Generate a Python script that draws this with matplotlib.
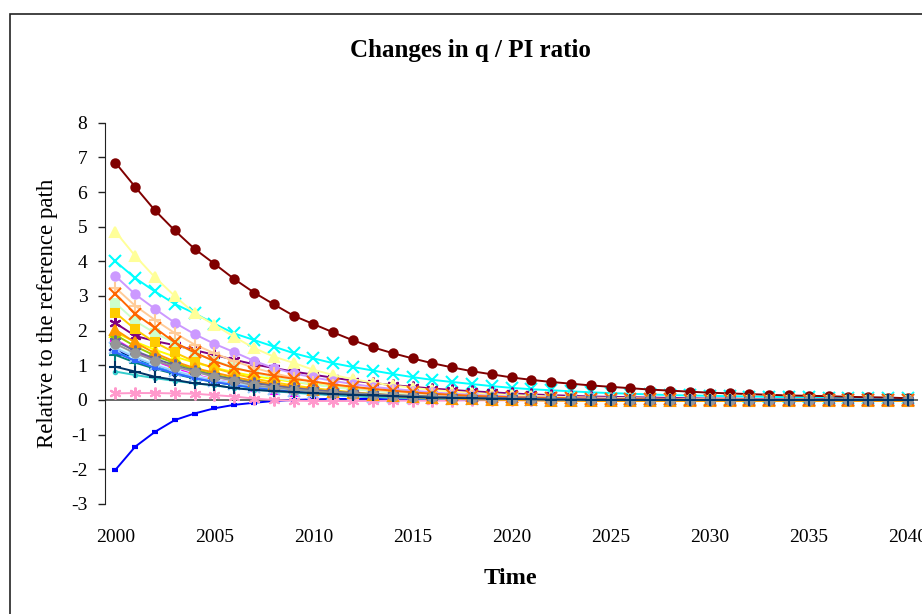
import matplotlib
matplotlib.use("Agg")
import matplotlib.pyplot as plt
from matplotlib.patches import Rectangle
import numpy as np

plt.rcParams['font.family'] = ['Liberation Serif', 'DejaVu Serif']
plt.rcParams['axes.unicode_minus'] = False

years = np.arange(2000, 2041)

# one list per series, 2000..2040
s01 = [1.45, 1.20, 0.99, 0.82, 0.68, 0.56, 0.46, 0.38, 0.31, 0.25,
       0.20, 0.16, 0.13, 0.10, 0.08, 0.06, 0.05, 0.04, 0.03, 0.02,
       0.02, 0.01, 0.01, 0.01, 0.00, 0.00, 0.00, 0.00, 0.00, 0.00,
       0.00, 0.00, 0.00, 0.00, 0.00, 0.00, 0.00, 0.00, 0.00, 0.00, 0.00]
s02 = [1.75, 1.41, 1.13, 0.91, 0.73, 0.59, 0.48, 0.38, 0.30, 0.24,
       0.19, 0.15, 0.12, 0.09, 0.07, 0.05, 0.04, 0.03, 0.02, 0.01,
       0.01, 0.01, 0.00, 0.00, 0.00, 0.00, 0.00, 0.00, 0.00, 0.00,
       0.00, 0.00, 0.00, 0.00, 0.00, 0.00, 0.00, 0.00, 0.00, 0.00, 0.00]
s03 = [1.95, 1.68, 1.45, 1.25, 1.08, 0.93, 0.80, 0.69, 0.60, 0.52,
       0.45, 0.39, 0.33, 0.29, 0.25, 0.21, 0.18, 0.16, 0.14, 0.12,
       0.10, 0.09, 0.08, 0.07, 0.06, 0.05, 0.04, 0.04, 0.03, 0.03,
       0.02, 0.02, 0.02, 0.01, 0.01, 0.01, 0.01, 0.01, 0.00, 0.00, 0.00]
s04 = [4.00, 3.52, 3.13, 2.77, 2.50, 2.20, 1.92, 1.73, 1.54, 1.35,
       1.20, 1.06, 0.95, 0.85, 0.75, 0.66, 0.58, 0.52, 0.46, 0.40,
       0.35, 0.31, 0.28, 0.25, 0.22, 0.20, 0.18, 0.16, 0.14, 0.13,
       0.12, 0.11, 0.10, 0.09, 0.08, 0.08, 0.07, 0.07, 0.06, 0.06, 0.05]
s05 = [2.22, 1.85, 1.70, 1.58, 1.44, 1.30, 1.16, 1.03, 0.92, 0.82,
       0.73, 0.64, 0.56, 0.49, 0.43, 0.38, 0.33, 0.29, 0.25, 0.22,
       0.19, 0.16, 0.14, 0.12, 0.10, 0.09, 0.08, 0.07, 0.06, 0.05,
       0.04, 0.04, 0.03, 0.03, 0.02, 0.02, 0.02, 0.01, 0.01, 0.01, 0.01]
s06 = [6.85, 6.15, 5.47, 4.89, 4.36, 3.93, 3.49, 3.10, 2.76, 2.43,
       2.19, 1.95, 1.72, 1.52, 1.35, 1.20, 1.06, 0.94, 0.83, 0.74,
       0.65, 0.58, 0.52, 0.47, 0.42, 0.38, 0.34, 0.30, 0.27, 0.24,
       0.21, 0.19, 0.17, 0.15, 0.13, 0.12, 0.11, 0.09, 0.08, 0.07, 0.05]
s07 = [1.30, 1.08, 0.90, 0.75, 0.62, 0.52, 0.43, 0.36, 0.30, 0.25,
       0.20, 0.16, 0.13, 0.10, 0.08, 0.06, 0.05, 0.04, 0.03, 0.02,
       0.02, 0.01, 0.01, 0.01, 0.00, 0.00, 0.00, 0.00, 0.00, 0.00,
       0.00, 0.00, 0.00, 0.00, 0.00, 0.00, 0.00, 0.00, 0.00, 0.00, 0.00]
s08 = [-2.02, -1.35, -0.92, -0.58, -0.39, -0.24, -0.14, -0.08, -0.03, 0.00,
       0.02, 0.03, 0.03, 0.03, 0.02, 0.02, 0.02, 0.01, 0.01, 0.01,
       0.01, 0.01, 0.00, 0.00, 0.00, 0.00, 0.00, 0.00, 0.00, 0.00,
       0.00, 0.00, 0.00, 0.00, 0.00, 0.00, 0.00, 0.00, 0.00, 0.00, 0.00]
s09 = [1.40, 1.15, 0.95, 0.78, 0.64, 0.53, 0.44, 0.36, 0.29, 0.24,
       0.19, 0.15, 0.12, 0.09, 0.07, 0.05, 0.04, 0.03, 0.02, 0.02,
       0.01, 0.01, 0.01, 0.00, 0.00, 0.00, 0.00, 0.00, 0.00, 0.00,
       0.00, 0.00, 0.00, 0.00, 0.00, 0.00, 0.00, 0.00, 0.00, 0.00, 0.00]
s10 = [1.55, 1.27, 1.04, 0.86, 0.71, 0.58, 0.48, 0.39, 0.32, 0.26,
       0.21, 0.17, 0.14, 0.11, 0.09, 0.07, 0.05, 0.04, 0.03, 0.02,
       0.02, 0.01, 0.01, 0.00, 0.00, 0.00, 0.00, 0.00, 0.00, 0.00,
       0.00, 0.00, 0.00, 0.00, 0.00, 0.00, 0.00, 0.00, 0.00, 0.00, 0.00]
s11 = [2.80, 2.28, 1.93, 1.65, 1.36, 1.13, 0.94, 0.78, 0.65, 0.54,
       0.45, 0.37, 0.31, 0.26, 0.21, 0.17, 0.14, 0.11, 0.09, 0.07,
       0.06, 0.05, 0.04, 0.03, 0.02, 0.02, 0.01, 0.01, 0.01, 0.00,
       0.00, 0.00, 0.00, 0.00, 0.00, 0.00, 0.00, 0.00, 0.00, 0.00, 0.00]
s12 = [4.86, 4.16, 3.54, 3.00, 2.50, 2.17, 1.82, 1.50, 1.25, 1.07,
       0.87, 0.72, 0.60, 0.50, 0.42, 0.35, 0.29, 0.24, 0.20, 0.17,
       0.14, 0.12, 0.10, 0.08, 0.07, 0.06, 0.05, 0.04, 0.03, 0.03,
       0.02, 0.02, 0.01, 0.01, 0.01, 0.01, 0.00, 0.00, 0.00, 0.00, 0.00]
s13 = [1.50, 1.23, 1.01, 0.83, 0.68, 0.56, 0.46, 0.38, 0.31, 0.25,
       0.20, 0.16, 0.13, 0.10, 0.08, 0.06, 0.05, 0.04, 0.03, 0.02,
       0.02, 0.01, 0.01, 0.00, 0.00, 0.00, 0.00, 0.00, 0.00, 0.00,
       0.00, 0.00, 0.00, 0.00, 0.00, 0.00, 0.00, 0.00, 0.00, 0.00, 0.00]
s14 = [0.19, 0.20, 0.20, 0.19, 0.18, 0.14, 0.10, 0.04, 0.00, -0.02,
       -0.03, -0.03, -0.03, -0.03, -0.02, -0.02, -0.02, -0.02, -0.01, -0.01,
       -0.01, -0.01, -0.01, -0.01, 0.00, 0.00, 0.00, 0.00, 0.00, 0.00,
       0.00, 0.00, 0.00, 0.00, 0.00, 0.00, 0.00, 0.00, 0.00, 0.00, 0.00]
s15 = [3.58, 3.05, 2.63, 2.23, 1.90, 1.62, 1.38, 1.13, 0.92, 0.77,
       0.65, 0.55, 0.46, 0.38, 0.32, 0.27, 0.22, 0.18, 0.15, 0.12,
       0.10, 0.08, 0.07, 0.06, 0.05, 0.04, 0.03, 0.03, 0.02, 0.02,
       0.01, 0.01, 0.01, 0.01, 0.00, 0.00, 0.00, 0.00, 0.00, 0.00, 0.00]
s16 = [3.24, 2.72, 2.31, 1.93, 1.60, 1.35, 1.12, 0.93, 0.77, 0.64,
       0.53, 0.44, 0.36, 0.30, 0.25, 0.20, 0.17, 0.14, 0.11, 0.09,
       0.07, 0.06, 0.05, 0.04, 0.03, 0.02, 0.02, 0.01, 0.01, 0.01,
       0.00, 0.00, 0.00, 0.00, 0.00, 0.00, 0.00, 0.00, 0.00, 0.00, 0.00]
s17 = [1.38, 1.13, 0.93, 0.77, 0.63, 0.52, 0.43, 0.35, 0.29, 0.23,
       0.19, 0.15, 0.12, 0.09, 0.07, 0.05, 0.04, 0.03, 0.02, 0.02,
       0.01, 0.01, 0.00, 0.00, 0.00, 0.00, 0.00, 0.00, 0.00, 0.00,
       0.00, 0.00, 0.00, 0.00, 0.00, 0.00, 0.00, 0.00, 0.00, 0.00, 0.00]
s18 = [0.82, 0.72, 0.63, 0.55, 0.48, 0.42, 0.35, 0.30, 0.25, 0.21,
       0.17, 0.14, 0.11, 0.09, 0.07, 0.05, 0.04, 0.03, 0.02, 0.02,
       0.01, 0.01, 0.00, 0.00, 0.00, 0.00, 0.00, 0.00, 0.00, 0.00,
       0.00, 0.00, 0.00, 0.00, 0.00, 0.00, 0.00, 0.00, 0.00, 0.00, 0.00]
s19 = [1.88, 1.55, 1.28, 1.06, 0.88, 0.73, 0.61, 0.51, 0.42, 0.35,
       0.29, 0.24, 0.20, 0.16, 0.13, 0.11, 0.09, 0.07, 0.06, 0.05,
       0.04, 0.03, 0.02, 0.02, 0.01, 0.01, 0.01, 0.00, 0.00, 0.00,
       0.00, 0.00, 0.00, 0.00, 0.00, 0.00, 0.00, 0.00, 0.00, 0.00, 0.00]
s20 = [2.52, 2.04, 1.66, 1.37, 1.11, 0.92, 0.76, 0.62, 0.51, 0.42,
       0.34, 0.28, 0.22, 0.18, 0.14, 0.11, 0.08, 0.06, 0.04, 0.03,
       0.02, 0.01, 0.00, -0.01, -0.01, -0.02, -0.02, -0.02, -0.03, -0.03,
       -0.03, -0.03, -0.03, -0.03, -0.03, -0.03, -0.03, -0.03, -0.03, -0.03, -0.03]
s21 = [2.03, 1.66, 1.35, 1.11, 0.92, 0.79, 0.66, 0.55, 0.45, 0.37,
       0.30, 0.24, 0.19, 0.15, 0.11, 0.08, 0.06, 0.04, 0.02, 0.01,
       0.00, -0.01, -0.02, -0.02, -0.03, -0.03, -0.03, -0.03, -0.03, -0.03,
       -0.03, -0.03, -0.03, -0.03, -0.03, -0.03, -0.03, -0.03, -0.03, -0.03, -0.03]
s22 = [3.06, 2.49, 2.08, 1.66, 1.37, 1.12, 0.92, 0.80, 0.70, 0.61,
       0.53, 0.45, 0.38, 0.32, 0.27, 0.22, 0.18, 0.15, 0.12, 0.10,
       0.08, 0.07, 0.06, 0.05, 0.04, 0.03, 0.03, 0.02, 0.02, 0.01,
       0.01, 0.01, 0.01, 0.00, 0.00, 0.00, 0.00, 0.00, 0.00, 0.00, 0.00]
s23 = [1.70, 1.42, 1.19, 1.00, 0.84, 0.70, 0.59, 0.49, 0.41, 0.34,
       0.29, 0.24, 0.20, 0.17, 0.14, 0.12, 0.10, 0.08, 0.07, 0.06,
       0.05, 0.04, 0.03, 0.03, 0.02, 0.02, 0.01, 0.01, 0.01, 0.00,
       0.00, 0.00, 0.00, 0.00, 0.00, 0.00, 0.00, 0.00, 0.00, 0.00, 0.00]
s24 = [1.62, 1.35, 1.13, 0.96, 0.82, 0.67, 0.55, 0.42, 0.36, 0.30,
       0.25, 0.20, 0.18, 0.15, 0.12, 0.10, 0.08, 0.06, 0.05, 0.04,
       0.03, 0.02, 0.01, 0.01, 0.00, 0.00, 0.00, 0.00, 0.00, 0.00,
       0.00, 0.00, 0.00, 0.00, 0.00, 0.00, 0.00, 0.00, 0.00, 0.00, 0.00]
s25 = [0.96, 0.82, 0.67, 0.58, 0.48, 0.43, 0.34, 0.29, 0.26, 0.23,
       0.20, 0.17, 0.15, 0.13, 0.11, 0.09, 0.07, 0.06, 0.05, 0.04,
       0.03, 0.02, 0.01, 0.01, 0.00, 0.00, 0.00, 0.00, 0.00, 0.00,
       0.00, 0.00, 0.00, 0.00, 0.00, 0.00, 0.00, 0.00, 0.00, 0.00, 0.00]

series = [s01, s02, s03, s04, s05, s06, s07, s08, s09, s10, s11, s12, s13,
          s14, s15, s16, s17, s18, s19, s20, s21, s22, s23, s24, s25]

# old Excel default line colours / marker cycle
colors = ['#000080', '#FF00FF', '#FFFF00', '#00FFFF', '#800080', '#800000',
          '#008080', '#0000FF', '#00CCFF', '#CCFFFF', '#CCFFCC', '#FFFF99',
          '#99CCFF', '#FF99CC', '#CC99FF', '#FFCC99', '#3366FF', '#33CCCC',
          '#99CC00', '#FFCC00', '#FF9900', '#FF6600', '#666699', '#969696',
          '#003366']
asterisk = (6, 2, 0)
markers = ['D', 's', '^', 'x', asterisk, 'o', '+', '_', '.',
           'D', 's', '^', 'x', asterisk, 'o', '+', '_', '.',
           'D', 's', '^', 'x', asterisk, 'o', '+']

fig = plt.figure(figsize=(9.22, 6.14), dpi=100)
ax = fig.add_axes([0.1143, 0.1792, 0.8811, 0.6210])

ax.axhline(0, color='#666666', lw=1.4, zorder=1)

for vals, c, m in zip(series, colors, markers):
    ms = 6
    mew = 1.5
    if m == 'D':
        ms = 5
    elif m == '^':
        ms = 7.5
    elif m == 'x' or m == '+' or m == asterisk:
        ms = 8.5
    elif m == '_':
        ms = 5
        mew = 3
    elif m == '.':
        ms = 5
    ax.plot(years, vals, color=c, lw=1.4, marker=m, markersize=ms,
            markeredgewidth=mew, markerfacecolor=c, markeredgecolor=c,
            zorder=2, clip_on=False)

ax.set_xlim(1999.5, 2040.5)
ax.set_ylim(-3, 8)
ax.set_yticks(range(-3, 9))
ax.set_xticks(range(2000, 2041, 5))

for side in ['top', 'right', 'bottom']:
    ax.spines[side].set_visible(False)
ax.spines['left'].set_color('#222222')
ax.tick_params(axis='y', direction='out', length=5, width=1,
               color='#222222', labelsize=14, pad=8)
ax.tick_params(axis='x', length=0, labelsize=14, pad=18)

fig.text(0.51, 0.918, 'Changes in q / PI ratio', ha='center', va='center',
         fontsize=18, fontweight='bold')
fig.text(0.051, 0.49, 'Relative to the reference path', ha='center',
         va='center', rotation=90, fontsize=16.5)
fig.text(0.554, 0.0586, 'Time', ha='center', va='center', fontsize=17.5,
         fontweight='bold')

# chart area border (cut off at right/bottom like the source)
fig.patches.append(Rectangle((10 / 922, -0.1), 1.2, 1.1 - 14 / 614,
                             transform=fig.transFigure, fill=False,
                             edgecolor='#222222', lw=1.2))

fig.savefig('out.png', dpi=100)
